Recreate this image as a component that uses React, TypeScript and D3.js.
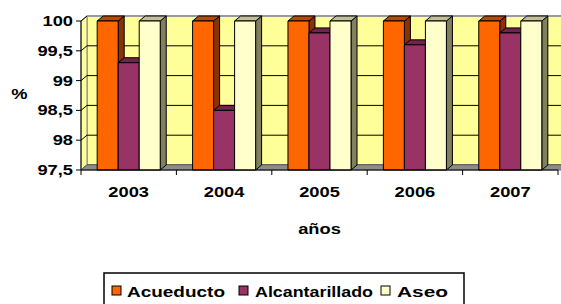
import React from 'react';
import * as d3 from 'd3';

const categories = ['2003', '2004', '2005', '2006', '2007'];
const seriesNames = ['Acueducto', 'Alcantarillado', 'Aseo'];
const acueducto = [100, 100, 100, 100, 100];
const alcantarillado = [99.3, 98.5, 99.8, 99.6, 99.8];
const aseo = [100, 100, 100, 100, 100];
const yTicks = [97.5, 98, 98.5, 99, 99.5, 100];
const yTickLabels = ['97,5', '98', '98,5', '99', '99,5', '100'];

const seriesValues = [acueducto, alcantarillado, aseo];
const frontColors = ['#FF6600', '#993366', '#FFFFCC'];
const sideColors = ['#8A3300', '#5E1F40', '#80805E'];
const topColors = ['#B84A00', '#6E2549', '#BFBF99'];

const W = 561;
const H = 304;
const left = 81;
const right = 558;
const top = 21;
const bottom = 170;
const dx = 6;
const dy = 5;
const font = '"Liberation Sans", Arial, sans-serif';
const SX = 1.22;

function T({ x, y, anchor = 'middle', size = 15, len, children }: any) {
  return (
    <text
      transform={`translate(${x},${y}) scale(${len ? 1 : SX},1)`}
      textAnchor={anchor}
      dominantBaseline="central"
      fontFamily={font}
      fontWeight="bold"
      fontSize={size}
      fill="#000"
      textLength={len}
      lengthAdjust={len ? 'spacingAndGlyphs' : undefined}
    >
      {children}
    </text>
  );
}

export default function App() {
  const x0 = d3.scaleBand<string>().domain(categories).range([left, right]).paddingInner(0).paddingOuter(0);
  const x1 = d3.scaleBand<string>().domain(seriesNames).range([0, x0.bandwidth()]).paddingInner(0).paddingOuter(0.77);
  const y = d3.scaleLinear().domain([97.5, 100]).range([bottom, top]);
  const w = x1.bandwidth();
  const y0 = y(97.5);

  const bars: any[] = [];
  categories.forEach((c, ci) => {
    seriesNames.forEach((s, si) => {
      const v = seriesValues[si][ci];
      const bx = (x0(c) as number) + (x1(s) as number);
      const by = y(v);
      bars.push(
        <g key={`${c}-${s}`} stroke="#000" strokeWidth={1} strokeLinejoin="round">
          <polygon
            points={`${bx + w},${by} ${bx + w + dx},${by - dy} ${bx + w + dx},${y0 - dy} ${bx + w},${y0}`}
            fill={sideColors[si]}
          />
          <polygon
            points={`${bx},${by} ${bx + dx},${by - dy} ${bx + w + dx},${by - dy} ${bx + w},${by}`}
            fill={topColors[si]}
          />
          <rect x={bx} y={by} width={w} height={y0 - by} fill={frontColors[si]} />
        </g>
      );
    });
  });

  const legendItems = [
    { sq: 112, tx: 127, len: 98 },
    { sq: 239, tx: 255, len: 118 },
    { sq: 381, tx: 397, len: 51 },
  ];

  return (
    <svg width={W} height={H} style={{ position: 'absolute', left: 0, top: 0, background: '#fff' }}>
      {/* back wall */}
      <rect x={left + dx} y={top - dy} width={right - left + 10} height={bottom - top} fill="#FFFF99" stroke="#808080" strokeWidth={1} />
      {/* left wall */}
      <polygon points={`${left},${top} ${left + dx},${top - dy} ${left + dx},${bottom - dy} ${left},${bottom}`} fill="#FFFF99" stroke="#808080" />
      {yTicks.map((t) => (
        <g key={t}>
          <line x1={left + dx} x2={W + 5} y1={y(t) - dy} y2={y(t) - dy} stroke="#000" strokeWidth={1} />
          <line x1={left} x2={left + dx} y1={y(t)} y2={y(t) - dy} stroke="#000" strokeWidth={1} />
        </g>
      ))}
      <line x1={left + dx} x2={W + 5} y1={top - dy} y2={top - dy} stroke="#9a9a9a" strokeWidth={2} />
      {/* floor */}
      <polygon points={`${left},${bottom} ${left + dx},${bottom - dy} ${W + 10},${bottom - dy} ${W + 4},${bottom}`} fill="#8c8c8c" stroke="#707070" />
      {bars}
      {/* axes */}
      <line x1={left} x2={left} y1={top} y2={bottom} stroke="#000" />
      {yTicks.map((t, i) => (
        <g key={`yt${t}`}>
          <line x1={left - 5} x2={left} y1={y(t)} y2={y(t)} stroke="#000" />
          <T x={73} y={y(t)} anchor="end">{yTickLabels[i]}</T>
        </g>
      ))}
      <line x1={left} x2={right} y1={bottom} y2={bottom} stroke="#000" />
      {categories.map((c) => (
        <line key={`xt${c}`} x1={x0(c) as number} x2={x0(c) as number} y1={bottom} y2={bottom + 5} stroke="#000" />
      ))}
      <line x1={right} x2={right} y1={bottom} y2={bottom + 5} stroke="#000" />
      {categories.map((c) => (
        <T key={`xl${c}`} x={(x0(c) as number) + x0.bandwidth() / 2} y={192}>{c}</T>
      ))}
      <T x={19.5} y={94}>%</T>
      <T x={(left + right) / 2} y={229}>años</T>
      {/* legend */}
      <rect x={104} y={273} width={360} height={40} fill="#fff" stroke="#000" strokeWidth={1.5} />
      {seriesNames.map((s, i) => (
        <g key={`lg${s}`}>
          <rect x={legendItems[i].sq} y={286} width={9} height={9} fill={frontColors[i]} stroke="#000" strokeWidth={1} />
          <T x={legendItems[i].tx} y={291} anchor="start" len={legendItems[i].len}>{s}</T>
        </g>
      ))}
    </svg>
  );
}
